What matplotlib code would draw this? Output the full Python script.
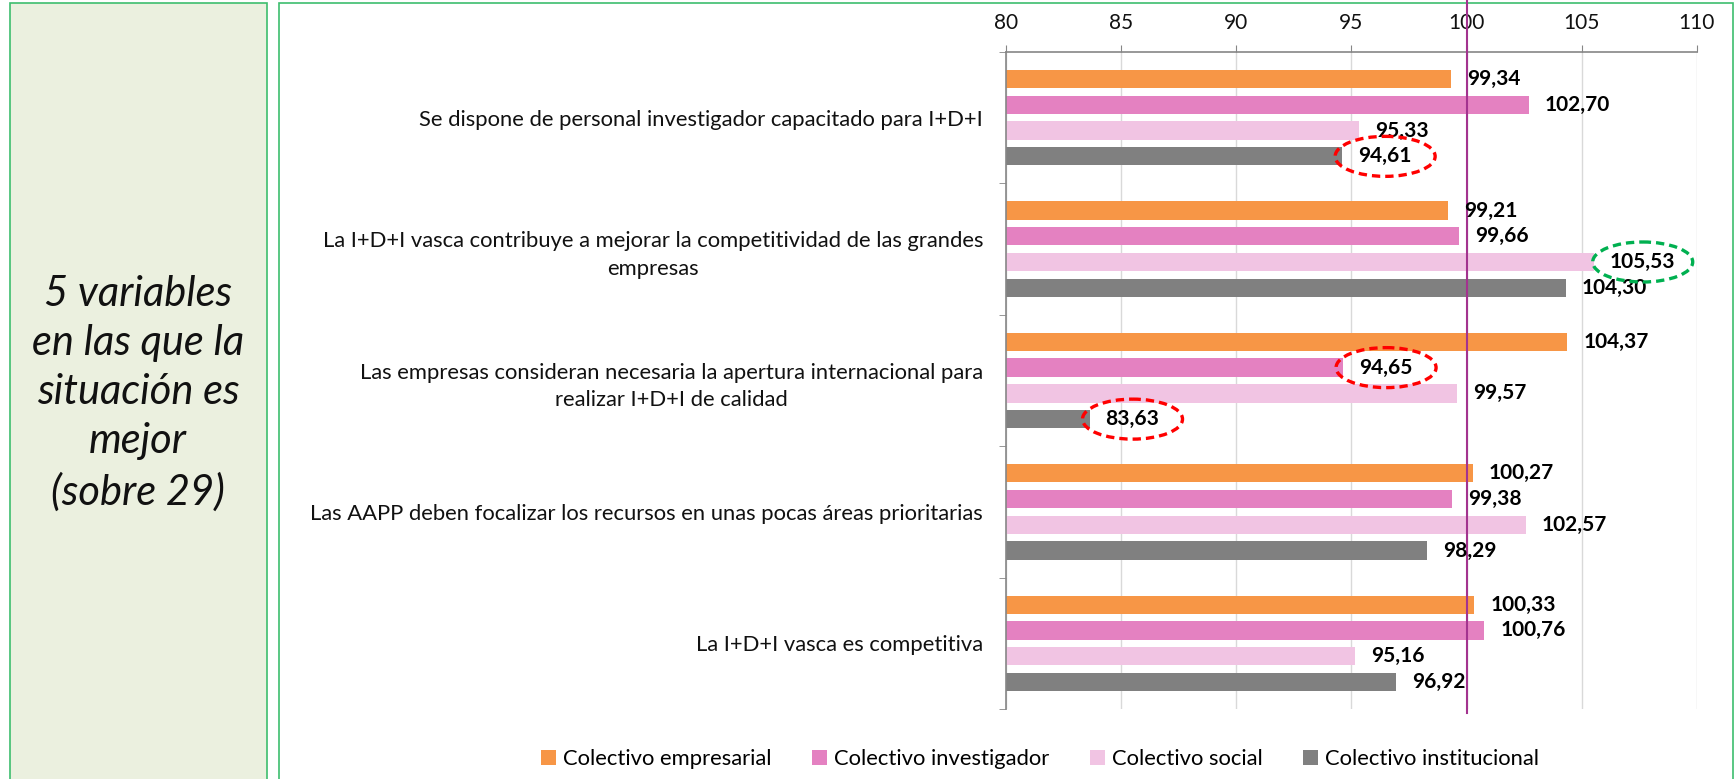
import matplotlib.pyplot as plt
import numpy as np
from matplotlib.patches import Rectangle, Ellipse

plt.rcParams['font.family'] = ['Lato', 'DejaVu Sans']

categories = [
    "Se dispone de personal investigador capacitado para I+D+I",
    "La I+D+I vasca contribuye a mejorar la competitividad de las grandes\nempresas",
    "Las empresas consideran necesaria la apertura internacional para\nrealizar I+D+I de calidad",
    "Las AAPP deben focalizar los recursos en unas pocas áreas prioritarias",
    "La I+D+I vasca es competitiva",
]
series_names = ["Colectivo empresarial", "Colectivo investigador",
                "Colectivo social", "Colectivo institucional"]
empresarial = [99.34, 99.21, 104.37, 100.27, 100.33]
investigador = [102.70, 99.66, 94.65, 99.38, 100.76]
social = [95.33, 105.53, 99.57, 102.57, 95.16]
institucional = [94.61, 104.30, 83.63, 98.29, 96.92]
xticks = [80, 85, 90, 95, 100, 105, 110]
reference = 100
# (category, series, colour) of the circled labels
highlights = [(0, 3, '#FF0000'), (2, 1, '#FF0000'), (2, 3, '#FF0000'), (1, 2, '#00B050')]
panel_text = "5 variables\nen las que la\nsituación es\nmejor\n(sobre 29)"

colors = ['#F79646', '#E481C1', '#F1C4E3', '#808080']
series = [empresarial, investigador, social, institucional]

fig = plt.figure(figsize=(17.36, 7.79), dpi=100)

# left side panel and chart frame
fig.patches.append(Rectangle((0.0058, -0.05), 0.148, 1.0458, transform=fig.transFigure,
                             fc='#EBF0DF', ec='#3DBE6E', lw=1.2, zorder=-2))
fig.patches.append(Rectangle((0.1607, -0.05), 0.8376, 1.0458, transform=fig.transFigure,
                             fc='white', ec='#3DBE6E', lw=1.2, zorder=-2))
fig.text(0.0795, 0.4955, panel_text, ha='center', va='center', style='italic',
         fontsize=30, linespacing=1.36, color='#111111')

ax = fig.add_axes([0.5795, 0.0899, 0.398, 0.8433])
ax.set_facecolor('none')

y = np.arange(len(categories))
slot = 0.196
height = 0.139
labels = {}
for i, (vals, c, name) in enumerate(zip(series, colors, series_names)):
    pos = y + (i - 1.5) * slot
    ax.barh(pos, np.array(vals) - 80, left=80, height=height, color=c, label=name, zorder=2)
    for j, (p, v) in enumerate(zip(pos, vals)):
        t = ax.annotate(f"{v:.2f}".replace('.', ','), (v, p), xytext=(11.5, 0),
                        textcoords='offset points', ha='left', va='center',
                        fontsize=15, fontweight='bold', color='black', zorder=5)
        labels[(j, i)] = t

ax.set_xlim(80, 110)
ax.set_ylim(len(categories) - 0.5, -0.5)
ax.xaxis.tick_top()
ax.set_xticks(xticks)
ax.tick_params(axis='x', length=5, color='#868686', pad=9, labelsize=15, labelcolor='#111111')
ax.set_yticks(y)
ax.set_yticklabels(categories, fontsize=15.8, color='#111111')
for lab in ax.get_yticklabels():
    lab.set_multialignment('center')
    lab.set_linespacing(1.49)
ax.set_yticks(np.arange(-0.5, len(categories)), minor=True)
ax.tick_params(axis='y', which='major', length=0, pad=16.5)
ax.tick_params(axis='y', which='minor', length=5, color='#868686')
ax.grid(axis='x', color='#D9D9D9', lw=1, zorder=0)
ax.set_axisbelow(True)
for s in ['right', 'bottom']:
    ax.spines[s].set_visible(False)
for s in ['top', 'left']:
    ax.spines[s].set_color('#868686')
    ax.spines[s].set_linewidth(1.2)

ax.axvline(reference, ymin=-0.006, ymax=1.079, color='#A3338F', lw=1.5, clip_on=False, zorder=4)

# dashed ellipses round the highlighted labels
fig.canvas.draw()
inv = ax.transData.inverted()
for j, i, c in highlights:
    bb = labels[(j, i)].get_window_extent()
    cx, cy = (bb.x0 + bb.x1) / 2, (bb.y0 + bb.y1) / 2
    (x0, y0), (x1, y1) = inv.transform([(cx - 50, cy - 20), (cx + 50, cy + 20)])
    (dcx, dcy) = inv.transform((cx, cy))
    ax.add_patch(Ellipse((dcx, dcy), abs(x1 - x0), abs(y1 - y0), fill=False, ec=c,
                         lw=2.4, ls=(0, (2.5, 1.5)), clip_on=False, zorder=6))

fig.legend(loc='center', bbox_to_anchor=(0.599, 0.0257), ncol=4, frameon=False,
           fontsize=15.8, handlelength=0.7, handleheight=0.7, handletextpad=0.3,
           columnspacing=1.85)

fig.savefig('out.png', dpi=100)
